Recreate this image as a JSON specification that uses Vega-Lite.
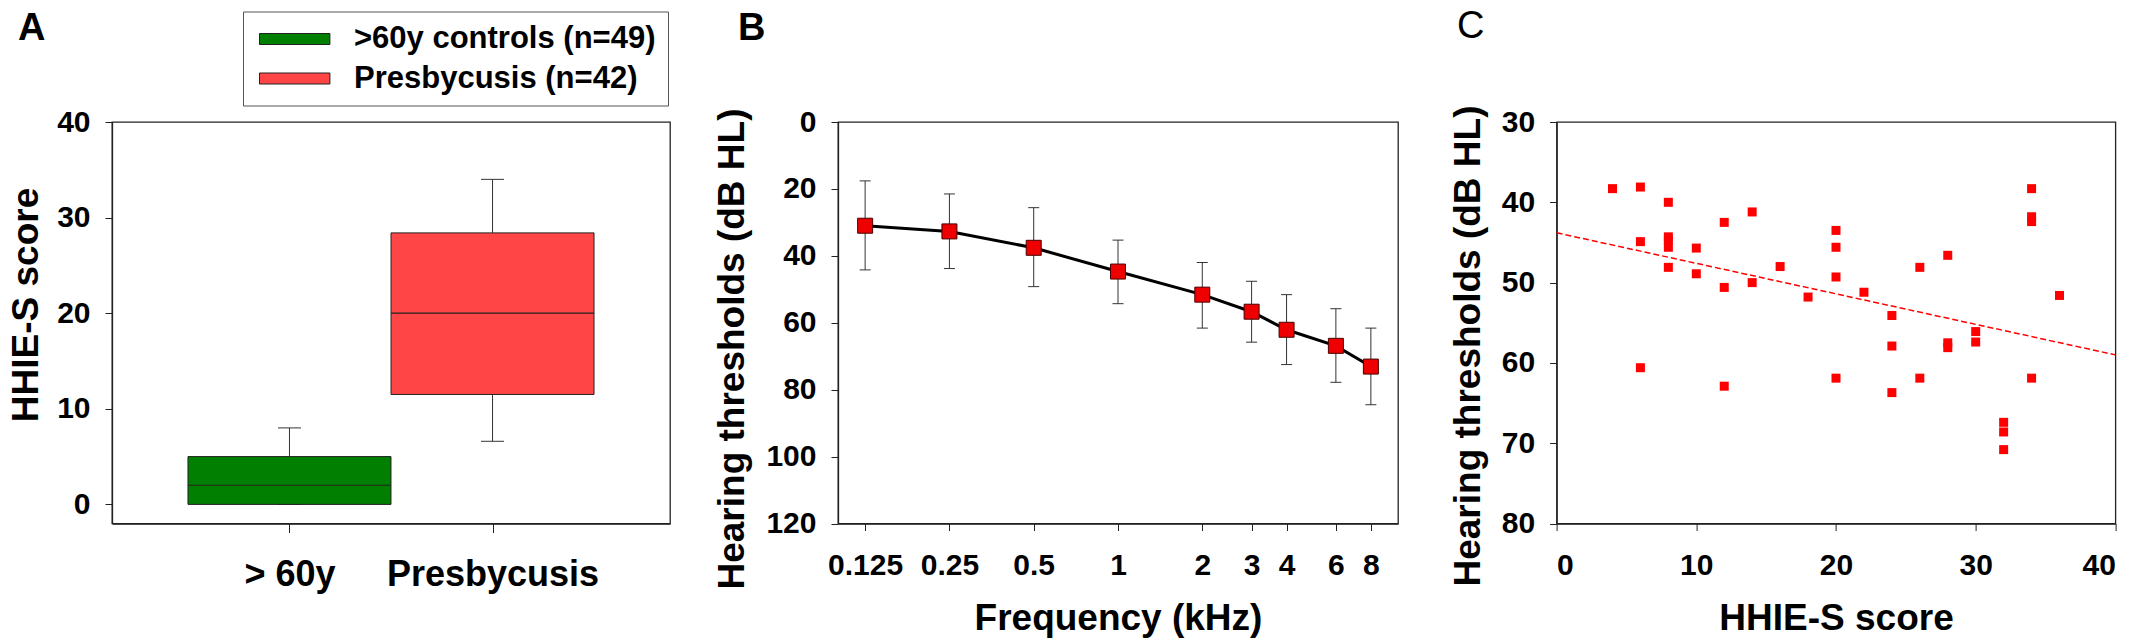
{
  "$schema": "https://vega.github.io/schema/vega-lite/v6.json",
  "background": "white",
  "padding": {"left": 6, "top": 7, "right": 4, "bottom": 4},
  "bounds": "flush",
  "spacing": 168,
  "config": {
    "font": "Liberation Sans",
    "view": {"stroke": "#222", "strokeWidth": 1.3},
    "axis": {
      "grid": false,
      "domainColor": "#222",
      "domainWidth": 1.3,
      "tickColor": "#222",
      "tickSize": 7,
      "labelFont": "Liberation Sans",
      "labelFontWeight": "bold",
      "labelFontSize": 30,
      "labelColor": "#000",
      "labelPadding": 15,
      "labelLimit": 0,
      "titleFont": "Liberation Sans",
      "titleFontWeight": "bold",
      "titleFontSize": 37,
      "titleColor": "#000",
      "titleLimit": 0
    },
    "title": {"font": "Liberation Sans", "fontSize": 38, "fontWeight": "bold", "anchor": "start", "frame": "group", "baseline": "alphabetic", "color": "#000"}
  },
  "datasets": {
    "boxes": [
      {"group": "> 60y", "legend": ">60y controls (n=49)", "lo": 0, "q1": 0, "med": 2, "q3": 5, "hi": 8},
      {"group": "Presbycusis", "legend": "Presbycusis (n=42)", "lo": 6.6, "q1": 11.5, "med": 20, "q3": 28.4, "hi": 34}
    ],
    "audiogram": [
      {"freq": 0.125, "mean": 31.0, "lo": 17.6, "hi": 44.2},
      {"freq": 0.25, "mean": 32.7, "lo": 21.5, "hi": 43.8},
      {"freq": 0.5, "mean": 37.6, "lo": 25.6, "hi": 49.2},
      {"freq": 1, "mean": 44.7, "lo": 35.3, "hi": 54.3},
      {"freq": 2, "mean": 51.6, "lo": 42.0, "hi": 61.6},
      {"freq": 3, "mean": 56.7, "lo": 47.6, "hi": 65.8},
      {"freq": 4, "mean": 62.1, "lo": 51.6, "hi": 72.5},
      {"freq": 6, "mean": 66.9, "lo": 55.8, "hi": 77.8},
      {"freq": 8, "mean": 73.1, "lo": 61.6, "hi": 84.5}
    ],
    "scatter": [
      {"hhie": 4, "threshold": 38.3},
      {"hhie": 6, "threshold": 38.1},
      {"hhie": 6, "threshold": 44.9},
      {"hhie": 6, "threshold": 60.6},
      {"hhie": 8, "threshold": 40.0},
      {"hhie": 8, "threshold": 44.3},
      {"hhie": 8, "threshold": 44.7},
      {"hhie": 8, "threshold": 45.6},
      {"hhie": 8, "threshold": 48.1},
      {"hhie": 10, "threshold": 45.7},
      {"hhie": 10, "threshold": 48.9},
      {"hhie": 12, "threshold": 42.5},
      {"hhie": 12, "threshold": 50.6},
      {"hhie": 12, "threshold": 62.9},
      {"hhie": 14, "threshold": 41.2},
      {"hhie": 14, "threshold": 50.0},
      {"hhie": 16, "threshold": 48.0},
      {"hhie": 18, "threshold": 51.8},
      {"hhie": 20, "threshold": 43.5},
      {"hhie": 20, "threshold": 45.6},
      {"hhie": 20, "threshold": 49.3},
      {"hhie": 20, "threshold": 61.9},
      {"hhie": 22, "threshold": 51.2},
      {"hhie": 24, "threshold": 54.1},
      {"hhie": 24, "threshold": 57.9},
      {"hhie": 24, "threshold": 63.7},
      {"hhie": 26, "threshold": 48.1},
      {"hhie": 26, "threshold": 61.9},
      {"hhie": 28, "threshold": 46.6},
      {"hhie": 28, "threshold": 57.5},
      {"hhie": 28, "threshold": 58.1},
      {"hhie": 30, "threshold": 56.1},
      {"hhie": 30, "threshold": 57.4},
      {"hhie": 32, "threshold": 67.4},
      {"hhie": 32, "threshold": 68.6},
      {"hhie": 32, "threshold": 70.8},
      {"hhie": 34, "threshold": 38.3},
      {"hhie": 34, "threshold": 41.8},
      {"hhie": 34, "threshold": 42.4},
      {"hhie": 34, "threshold": 61.9},
      {"hhie": 36, "threshold": 51.6}
    ],
    "fit": [
      {"hhie": 0, "threshold": 43.8},
      {"hhie": 40, "threshold": 59.0}
    ]
  },
  "hconcat": [
    {
      "width": 558,
      "height": 401.5,
      "title": {"text": "A", "dx": -94, "offset": 59},
      "data": {"name": "boxes"},
      "encoding": {
        "x": {
          "field": "group",
          "type": "nominal",
          "sort": ["> 60y", "Presbycusis"],
          "scale": {"type": "point", "padding": 0.874},
          "axis": {"title": null, "labelAngle": 0, "labelFontSize": 36, "tickSize": 9, "labelPadding": 25, "labelLimit": 0}
        }
      },
      "layer": [
        {
          "mark": {"type": "rule", "color": "#333", "strokeWidth": 1},
          "encoding": {
            "y": {
              "field": "lo",
              "type": "quantitative",
              "scale": {"domain": [-2, 40], "nice": false, "zero": false},
              "axis": {"values": [0, 10, 20, 30, 40], "title": "HHIE-S score", "titleY": 182.5, "titlePadding": 11}
            },
            "y2": {"field": "q1"}
          }
        },
        {
          "mark": {"type": "rule", "color": "#333", "strokeWidth": 1},
          "encoding": {"y": {"field": "q3", "type": "quantitative"}, "y2": {"field": "hi"}}
        },
        {
          "mark": {"type": "tick", "size": 23, "thickness": 1, "color": "#333", "opacity": 1},
          "encoding": {"y": {"field": "hi", "type": "quantitative"}}
        },
        {
          "mark": {"type": "tick", "size": 23, "thickness": 1, "color": "#333", "opacity": 1},
          "encoding": {"y": {"field": "lo", "type": "quantitative"}}
        },
        {
          "mark": {"type": "bar", "size": 203, "stroke": "#222", "strokeWidth": 1, "opacity": 1},
          "encoding": {
            "y": {"field": "q1", "type": "quantitative"},
            "y2": {"field": "q3"},
            "color": {
              "field": "legend",
              "type": "nominal",
              "sort": [">60y controls (n=49)", "Presbycusis (n=42)"],
              "scale": {"range": ["#007f00", "#ff4545"]},
              "legend": {
                "orient": "none",
                "legendX": 131,
                "legendY": -110.5,
                "title": null,
                "direction": "vertical",
                "strokeColor": "#555",
                "fillColor": "#fff",
                "padding": 12,
                "symbolType": "M-1,-0.5H5.4V0.5H-1Z",
                "symbolSize": 484,
                "symbolStrokeColor": "#222",
                "symbolStrokeWidth": 1,
                "symbolOpacity": 1,
                "labelFont": "Liberation Sans",
                "labelFontSize": 31,
                "labelFontWeight": "bold",
                "labelColor": "#000",
                "labelLimit": 0,
                "labelOffset": 68,
                "rowPadding": 7.5
              }
            }
          }
        },
        {
          "mark": {"type": "tick", "size": 203, "thickness": 1.2, "color": "#222", "opacity": 1},
          "encoding": {"y": {"field": "med", "type": "quantitative"}}
        }
      ]
    },
    {
      "spacing": 158.6,
      "bounds": "flush",
      "hconcat": [
        {
          "width": 560,
          "height": 401.5,
          "title": {"text": "B", "dx": -100, "offset": 59},
          "data": {"name": "audiogram"},
          "encoding": {
            "x": {
              "field": "freq",
              "type": "quantitative",
              "scale": {"type": "log", "domain": [0.1, 10], "nice": false},
              "axis": {"values": [0.125, 0.25, 0.5, 1, 2, 3, 4, 6, 8], "format": "~g", "title": "Frequency (kHz)", "labelPadding": 20, "titlePadding": 20}
            }
          },
          "layer": [
            {
              "mark": {"type": "rule", "color": "#333", "strokeWidth": 1},
              "encoding": {
                "y": {
                  "field": "lo",
                  "type": "quantitative",
                  "scale": {"domain": [0, 120], "reverse": true, "nice": false},
                  "axis": {"values": [0, 20, 40, 60, 80, 100, 120], "title": "Hearing thresholds (dB HL)", "titleY": 226.5, "titlePadding": 14}
                },
                "y2": {"field": "hi"}
              }
            },
            {
              "mark": {"type": "tick", "orient": "horizontal", "size": 11, "thickness": 1, "color": "#333", "opacity": 1},
              "encoding": {"y": {"field": "lo", "type": "quantitative"}}
            },
            {
              "mark": {"type": "tick", "orient": "horizontal", "size": 11, "thickness": 1, "color": "#333", "opacity": 1},
              "encoding": {"y": {"field": "hi", "type": "quantitative"}}
            },
            {
              "mark": {"type": "line", "color": "#000", "strokeWidth": 3},
              "encoding": {"y": {"field": "mean", "type": "quantitative"}}
            },
            {
              "mark": {"type": "point", "shape": "square", "filled": true, "size": 225, "fill": "#ee0000", "stroke": "#4a0000", "strokeWidth": 1, "opacity": 1},
              "encoding": {"y": {"field": "mean", "type": "quantitative"}}
            }
          ]
        },
        {
          "width": 558.8,
          "height": 401.5,
          "title": {"text": "C", "dx": -99.6, "offset": 59, "fontWeight": "normal"},
          "layer": [
            {
              "data": {"name": "scatter"},
              "mark": {"type": "square", "size": 81, "color": "#ff0000", "opacity": 1},
              "encoding": {
                "x": {
                  "field": "hhie",
                  "type": "quantitative",
                  "scale": {"domain": [0, 40], "nice": false},
                  "axis": {"values": [0, 10, 20, 30, 40], "title": "HHIE-S score", "labelPadding": 20, "titlePadding": 20}
                },
                "y": {
                  "field": "threshold",
                  "type": "quantitative",
                  "scale": {"domain": [30, 80], "reverse": true, "nice": false, "zero": false},
                  "axis": {"values": [30, 40, 50, 60, 70, 80], "title": "Hearing thresholds (dB HL)", "titleY": 223.5, "titlePadding": 14}
                }
              }
            },
            {
              "data": {"name": "fit"},
              "mark": {"type": "line", "color": "#ff0000", "strokeWidth": 1.5, "strokeDash": [6, 3]},
              "encoding": {
                "x": {"field": "hhie", "type": "quantitative"},
                "y": {"field": "threshold", "type": "quantitative"}
              }
            }
          ]
        }
      ]
    }
  ]
}
